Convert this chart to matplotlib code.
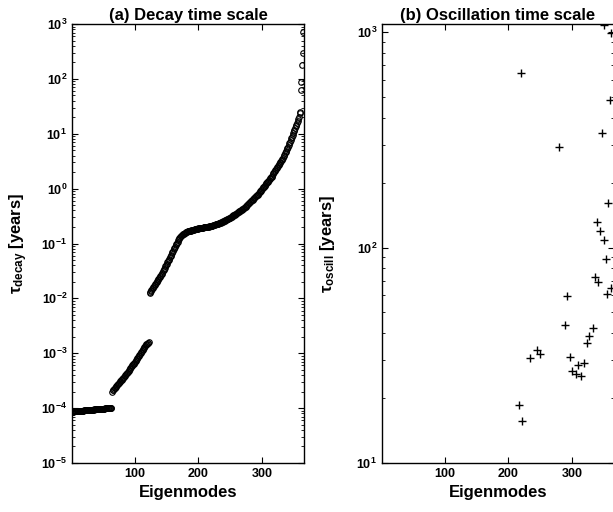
import numpy as np
import matplotlib
matplotlib.use("Agg")
import matplotlib.pyplot as plt

plt.rcParams['font.family'] = ['Liberation Sans', 'DejaVu Sans']
plt.rcParams['font.weight'] = 'bold'
plt.rcParams['mathtext.fontset'] = 'custom'
plt.rcParams['mathtext.rm'] = 'Liberation Sans'
plt.rcParams['mathtext.bf'] = 'Liberation Sans:bold'
plt.rcParams['mathtext.it'] = 'Liberation Sans:italic'
plt.rcParams['mathtext.default'] = 'bf'

# (a) decay time scale, three branches of eigenmodes [years]
start1 = 1
decay1 = [8.5e-5, 8.6e-5, 8.6e-5, 8.7e-5, 8.7e-5, 8.7e-5, 8.8e-5, 8.8e-5, 8.8e-5, 8.8e-5,
          8.9e-5, 8.9e-5, 8.9e-5, 8.9e-5, 8.9e-5, 9.0e-5, 9.0e-5, 9.0e-5, 9.0e-5, 9.1e-5,
          9.1e-5, 9.1e-5, 9.1e-5, 9.2e-5, 9.2e-5, 9.2e-5, 9.2e-5, 9.3e-5, 9.3e-5, 9.3e-5,
          9.3e-5, 9.4e-5, 9.4e-5, 9.4e-5, 9.4e-5, 9.5e-5, 9.5e-5, 9.5e-5, 9.5e-5, 9.6e-5,
          9.6e-5, 9.6e-5, 9.6e-5, 9.7e-5, 9.7e-5, 9.7e-5, 9.7e-5, 9.8e-5, 9.8e-5, 9.8e-5,
          9.8e-5, 9.8e-5, 9.9e-5, 9.9e-5, 9.9e-5, 9.9e-5, 1.0e-4, 1.0e-4, 1.0e-4, 1.0e-4,
          1.01e-4, 1.01e-4, 1.02e-4]

start2 = 64
decay2 = [2.0e-4,
          2.1e-4, 2.15e-4, 2.2e-4, 2.3e-4, 2.35e-4, 2.45e-4, 2.5e-4, 2.6e-4, 2.7e-4,
          2.8e-4, 2.9e-4, 3.0e-4, 3.1e-4, 3.2e-4, 3.3e-4, 3.4e-4, 3.5e-4, 3.6e-4, 3.75e-4,
          3.9e-4, 4.0e-4, 4.15e-4, 4.3e-4, 4.45e-4, 4.6e-4, 4.8e-4, 5.0e-4, 5.2e-4, 5.4e-4,
          5.6e-4, 5.8e-4, 6.0e-4, 6.25e-4, 6.5e-4, 6.75e-4, 7.0e-4, 7.3e-4, 7.6e-4, 7.9e-4,
          8.2e-4, 8.5e-4, 8.9e-4, 9.3e-4, 9.7e-4, 1.01e-3, 1.05e-3, 1.1e-3, 1.15e-3, 1.2e-3,
          1.25e-3, 1.3e-3, 1.35e-3, 1.4e-3, 1.45e-3, 1.5e-3, 1.54e-3, 1.57e-3, 1.6e-3]

start3 = 123
decay3 = [0.0126, 0.0131, 0.0137, 0.0143, 0.0149, 0.0155, 0.0161, 0.0168, 0.0175, 0.0183,
          0.0191, 0.0199, 0.0207, 0.0216, 0.0225, 0.0235, 0.0245, 0.0256, 0.0267, 0.0280,
          0.0295, 0.0311, 0.0328, 0.0346, 0.0365, 0.0385, 0.0406, 0.0428, 0.0452, 0.0477,
          0.0503, 0.0531, 0.0560, 0.0591, 0.0623, 0.0660, 0.0697, 0.0737, 0.0779, 0.0823,
          0.0870, 0.0920, 0.0970, 0.102, 0.108, 0.115, 0.120, 0.125, 0.130, 0.135,
          0.139, 0.143, 0.146, 0.149, 0.152, 0.155, 0.157, 0.160, 0.162, 0.164,
          0.166, 0.168, 0.169, 0.170, 0.171, 0.172, 0.174, 0.175, 0.176, 0.177,
          0.179, 0.180, 0.181, 0.182, 0.184, 0.185, 0.186, 0.188, 0.189, 0.190,
          0.191, 0.192, 0.193, 0.194, 0.195, 0.196, 0.197, 0.198, 0.199, 0.200,
          0.201, 0.202, 0.203, 0.204, 0.205, 0.206, 0.207, 0.208, 0.210, 0.212,
          0.214, 0.216, 0.218, 0.220, 0.222, 0.224, 0.226, 0.228, 0.231, 0.233,
          0.236, 0.238, 0.241, 0.244, 0.247, 0.250, 0.253, 0.256, 0.259, 0.263,
          0.266, 0.270, 0.274, 0.278, 0.282, 0.287, 0.292, 0.297, 0.302, 0.307,
          0.312, 0.318, 0.324, 0.330, 0.336, 0.342, 0.348, 0.355, 0.362, 0.369,
          0.376, 0.383, 0.390, 0.398, 0.406, 0.414, 0.423, 0.432, 0.441, 0.450,
          0.460, 0.472, 0.485, 0.498, 0.511, 0.525, 0.539, 0.553, 0.568, 0.583,
          0.598, 0.614, 0.630, 0.647, 0.664, 0.682, 0.700, 0.720, 0.740, 0.760,
          0.780, 0.800, 0.83, 0.86, 0.89, 0.92, 0.95, 0.98, 1.02, 1.05,
          1.09, 1.13, 1.17, 1.21, 1.25, 1.30, 1.34, 1.39, 1.44, 1.49,
          1.54, 1.60, 1.66, 1.73, 1.81, 1.89, 1.97, 2.06, 2.15, 2.24,
          2.34, 2.44, 2.55, 2.66, 2.78, 2.90, 3.03, 3.16, 3.30, 3.49,
          3.69, 3.91, 4.13, 4.37, 4.63, 4.90, 5.18, 5.48, 5.80, 6.2,
          6.7, 7.2, 7.7, 8.3, 8.9, 9.5, 10.2, 11.0, 11.8, 12.7,
          13.6, 14.6, 15.7, 17.0, 18.5, 20.5, 23.5, 25.0, 64, 89,
          179, 292, 724]

# (b) oscillation time scale of the oscillatory modes [years]
osc_mode = [217, 222, 219, 234, 245, 250, 280, 289, 292, 297, 300, 306, 309, 314, 319,
            324, 327, 333, 336, 339, 341, 344, 347, 350, 351, 354, 355, 357, 359, 361, 362]
osc_tau = [18.6, 15.7, 643, 30.6, 33.4, 32.1, 292, 43.6, 59.6, 30.9, 26.7, 25.8, 28.5, 25.3, 29.0,
           36.1, 38.7, 42.2, 72.8, 132, 68.9, 119, 339, 108, 1081, 88, 60.8, 161, 483, 64.7, 993]

x1 = np.arange(start1, start1 + len(decay1))
x2 = np.arange(start2, start2 + len(decay2))
x3 = np.arange(start3, start3 + len(decay3))
modes = np.concatenate([x1, x2, x3])
tau_decay = np.concatenate([decay1, decay2, decay3])

fig = plt.figure(figsize=(6.13, 5.12), dpi=100)
ax1 = fig.add_axes([72 / 613, 49 / 512, 232 / 613, 439 / 512])
ax2 = fig.add_axes([382 / 613, 49 / 512, 232 / 613, 439 / 512])

ax1.semilogy(modes, tau_decay, 'o', mfc='none', mec='black', ms=4, mew=0.8)
ax1.set_xlim(1, 366)
ax1.set_ylim(1e-5, 1e3)
ax1.set_yticks([10.0 ** k for k in range(-5, 4)])
ax1.set_title('(a) Decay time scale', fontsize=12, fontweight='bold', pad=3)
ax1.set_ylabel(r'$\mathrm{\tau}_{decay}$ [years]', fontsize=12, fontweight='bold', labelpad=8)

ax2.semilogy(osc_mode, osc_tau, '+', color='black', ms=5.5, mew=1.0)
ax2.set_xlim(1, 366)
ax2.set_ylim(10, 1090)
ax2.set_yticks([10, 100, 1000])
ax2.set_title('(b) Oscillation time scale', fontsize=12, fontweight='bold', pad=3)
ax2.set_ylabel(r'$\mathrm{\tau}_{oscill}$ [years]', fontsize=12, fontweight='bold', labelpad=14)

for ax in (ax1, ax2):
    ax.set_xticks([100, 200, 300])
    ax.set_xlabel('Eigenmodes', fontsize=12, fontweight='bold')
    ax.tick_params(which='both', direction='in', top=True, right=True, labelsize=9)
    ax.tick_params(which='major', length=4, width=0.8)
    ax.tick_params(which='minor', length=2, width=0.6)
    for s in ax.spines.values():
        s.set_linewidth(1.0)

fig.savefig('out.png', dpi=100)
